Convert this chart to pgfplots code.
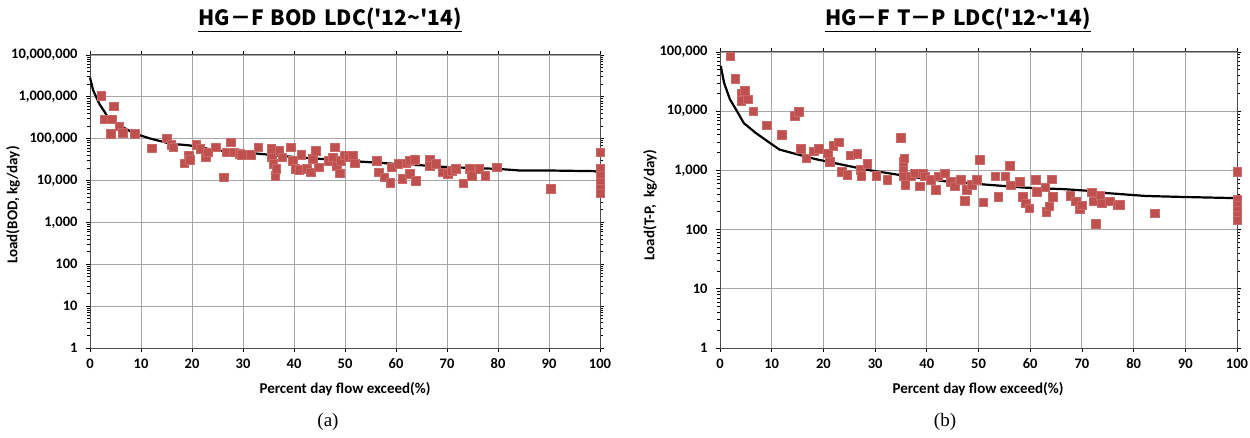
\documentclass[border=0pt]{standalone}
\usepackage{fontspec}
\usepackage{pgfplots}
\pgfplotsset{compat=1.18}
\setmainfont{Carlito}
\newfontfamily\titlefont{Noto Sans CJK KR}
\newfontfamily\capfont{Liberation Serif}
\definecolor{ptred}{RGB}{192,80,77}
\pgfplotsset{
  ldc/.style={
    scale only axis,
    xmin=0, xmax=100,
    xtick={0,10,...,100},
    xticklabels={0,10,20,30,40,50,60,70,80,90,100},
    grid=major,
    grid style={gray!70, line width=0.9pt},
    axis line style={gray!60!black, line width=1pt},
    tick align=outside,
    tick style={black, line width=0.8pt},
    major tick length=4pt,
    ticklabel style={font=\bfseries\fontsize{14.5}{14.5}\selectfont},
    xticklabel style={yshift=-3pt},
    yticklabel style={xshift=-5pt},
    clip=false,
  },
  ldcline/.style={black, line width=2.2pt, no marks},
  ldcpts/.style={only marks, mark=square*, mark size=4.3pt,
     mark options={fill=ptred, draw=ptred!85!white, line width=0.4pt}},
}
\begin{document}
\begin{tikzpicture}[x=1pt,y=1pt]
\useasboundingbox (0,0) rectangle (1250,437);
% ---------------- (a) BOD ----------------
\begin{axis}[ymode=log, ldc, at={(90pt,89pt)}, anchor=south west, width=510pt, height=293pt,
  ymin=1, ymax=1e7,
  ytick={1,10,100,1000,10000,100000,1000000,10000000},
  yticklabels={1,10,100,{1,000},{10,000},{100,000},{1,000,000},{10,000,000}}]
\addplot[ldcline] coordinates {
(0,2900000) (0.6,1450000) (1.8,690000) (3.3,360000) (5.7,210000) (8.8,132000)
(11.9,100000) (15.8,76000) (19.6,69000) (25,52000) (32.8,44000) (40.6,36000)
(50,30000) (60,25000) (65.4,23000) (70,21000) (80,19000) (84,17500) (90,17400)
(98.8,16800) (100,15800)};
\addplot[ldcpts] coordinates {
(2.2,1050000) (4.7,600000) (2.9,290000) (4.3,290000) (4.0,130000) (5.7,200000)
(6.4,138000) (8.8,130000) (12.1,60000) (15.0,104000) (15.9,72000) (16.3,63000)
(18.5,26000) (19.3,40000) (19.6,32000) (20.8,72000) (21.6,57000) (22.7,36000)
(23.1,48000) (24.7,63000) (26.2,12000) (26.8,48000) (27.6,83000) (28.2,48000)
(29.3,44000) (29.7,41000) (31.5,42000) (33,63000) (35.5,57000) (35.6,36000)
(35.9,25000) (36.3,13000) (36.5,19000) (37.1,52000) (37.7,36000) (39.3,63000)
(39.7,30000) (40.2,19000) (41.4,42000) (41.0,18000) (42.5,19000) (43.7,33000)
(44.3,52000) (43.3,16000) (44.9,21000) (46.8,30000) (47.6,36000) (48,63000)
(48.4,23000) (49,15000) (49.2,30000) (49.9,40000) (50.7,36000) (51.5,40000)
(51.9,26000) (56.2,30000) (56.6,16000) (57.7,12000) (58.9,9000) (59.2,21000)
(60.4,25000) (61.2,11000) (62,26000) (62.7,30000) (62.7,14500) (63.7,32000)
(63.9,10000) (66.6,32000) (66.6,23000) (67.8,25000) (69.2,16000) (70.1,14500)
(70.9,17500) (71.7,19000) (73.2,8700) (74.4,19000) (74.8,13000) (76.3,19000)
(77.5,13000) (79.8,21000) (90.3,6300) (100,48000) (100,19000) (100,13000)
(100,9000) (100,6300) (100,5000)};
\end{axis}
% ---------------- (b) T-P ----------------
\begin{axis}[ymode=log, ldc, at={(720pt,89pt)}, anchor=south west, width=517pt, height=296pt,
  ymin=1, ymax=1e5,
  ytick={1,10,100,1000,10000,100000},
  yticklabels={1,10,100,{1,000},{10,000},{100,000}}]
\addplot[ldcline] coordinates {
(0.15,58000) (0.8,30000) (1.9,16000) (3.1,10700) (4.6,6300) (6.9,4300) (9.2,3100)
(11.5,2250) (14.6,1900) (18.5,1550) (22.3,1320) (28.5,1020) (36.2,800) (43.8,650)
(51.5,575) (59.2,510) (66.9,480) (70.8,455) (74.6,415) (82.3,370) (90,355)
(100,340)};
\addplot[ldcpts] coordinates {
(2.0,85000) (2.9,35000) (4.2,20000) (4.8,22000) (4.1,15000) (5.4,16000) (6.4,10000)
(9.0,5800) (11.9,4000) (14.5,8300) (15.2,9800) (15.6,2300) (16.7,1600) (18.1,2100)
(19.1,2300) (20.8,1950) (21.2,1400) (21.9,2600) (22.9,3000) (23.5,950) (24.6,850)
(25.2,1800) (26.5,1900) (27.2,1020) (27.3,810) (28.5,1300) (30.2,810) (32.3,690)
(35,3600) (35.4,1400) (35.6,1600) (35.4,1000) (35.4,800) (35.8,580) (36.9,800)
(37.7,900) (38.6,540) (39.2,900) (39.6,800) (40.8,700) (41.7,470) (42.2,800)
(43.5,900) (44.6,650) (45.4,540) (46.6,700) (47.3,310) (47.7,470) (48.7,580)
(49.6,700) (50.2,1500) (50.9,290) (53.2,800) (53.8,360) (55.2,800) (56,1200)
(56.2,560) (58,640) (58.5,360) (59.1,280) (59.8,230) (61.1,700) (61.3,440)
(62.9,520) (63.1,200) (63.7,250) (64.2,710) (64.4,360) (67.7,370) (68.8,300)
(69.6,220) (70,260) (71.9,430) (72.3,300) (72.7,125) (73.5,370) (73.8,280)
(75.4,300) (76.9,260) (77.3,265) (84.1,190) (100,950) (100,320) (100,260)
(100,210) (100,170) (100,145)};
\end{axis}
% ---------------- titles and labels ----------------
\node[font=\titlefont\bfseries\fontsize{21}{21}\selectfont] at (330,417)
  {\underline{HG－F\,\,BOD\,\,LDC('12\textasciitilde'14)}};
\node[font=\titlefont\bfseries\fontsize{21}{21}\selectfont] at (958,417)
  {\underline{HG－F\,\,T－P\,\,LDC('12\textasciitilde'14)}};
\node[font=\bfseries\fontsize{15}{15}\selectfont] at (345,48) {Percent day flow exceed(\%)};
\node[font=\bfseries\fontsize{15}{15}\selectfont] at (978,48) {Percent day flow exceed(\%)};
\node[font=\bfseries\fontsize{15}{15}\selectfont, rotate=90] at (13,232) {Load(BOD, kg/day)};
\node[font=\bfseries\fontsize{15}{15}\selectfont, rotate=90] at (650,232) {Load(T-P, \ kg/day)};
\node[font=\capfont\fontsize{19}{19}\selectfont] at (328,15) {(a)};
\node[font=\capfont\fontsize{19}{19}\selectfont] at (945,15) {(b)};
\end{tikzpicture}
\end{document}
